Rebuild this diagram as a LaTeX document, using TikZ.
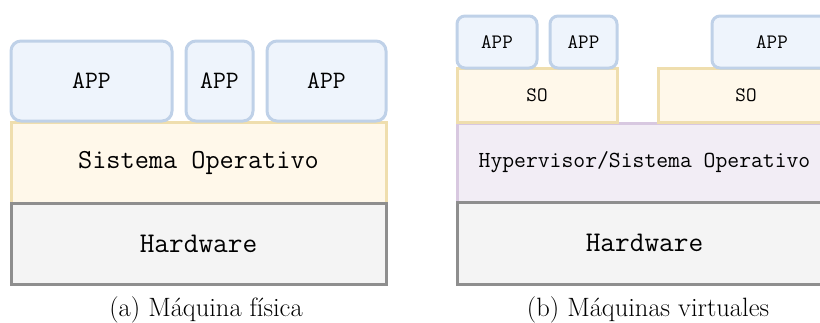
\documentclass[tikz,border=0pt]{standalone}
\usepackage{fontspec}
\definecolor{appfill}{HTML}{EEF4FC}
\definecolor{appline}{HTML}{BFD1E8}
\definecolor{osfill}{HTML}{FFF8EA}
\definecolor{osline}{HTML}{EFDEAE}
\definecolor{hwfill}{HTML}{F4F4F4}
\definecolor{hwline}{HTML}{8E8E8E}
\definecolor{hypfill}{HTML}{F2EDF5}
\definecolor{hypline}{HTML}{D8C8E0}
\newcommand\mono[1]{\ttfamily\fontsize{#1}{#1}\selectfont}
\tikzset{
  layer/.style={rectangle, inner sep=0pt, line width=3pt},
  appbox/.style={layer, rounded corners=10pt, fill=appfill, draw=appline},
  osbox/.style={layer, fill=osfill, draw=osline},
  hwbox/.style={layer, fill=hwfill, draw=hwline},
  hypbox/.style={layer, fill=hypfill, draw=hypline},
  caption/.style={inner sep=0pt, anchor=base, font=\fontsize{26.5}{30}\selectfont}
}
\begin{document}
\begin{tikzpicture}[x=1pt, y=-1pt]
\useasboundingbox (0,0) rectangle (820,322);
\clip (0,0) rectangle (820,322);

% (a) physical machine
\node[osbox, minimum width=375pt, minimum height=81pt, font=\mono{27.5}] (os) at (198.5,162.5) {Sistema Operativo};
\node[hwbox, minimum width=375pt, minimum height=81pt, font=\mono{28.5}] (hw) at (198.5,243.5) {Hardware};
\node[appbox, minimum width=161pt, minimum height=80pt, font=\mono{25}] (a1) at (91.5,81) {APP};
\node[appbox, minimum width=67pt, minimum height=80pt, font=\mono{25}] (a2) at (219.5,81) {APP};
\node[appbox, minimum width=119pt, minimum height=80pt, font=\mono{25}] (a3) at (326.5,81) {APP};
\node[caption] (capa) at (206,316) {(a) Máquina física};

% (b) virtual machines
\node[hypbox, minimum width=375pt, minimum height=79pt, font=\mono{23}] (hyp) at (644.5,162.5) {Hypervisor/Sistema Operativo};
\node[hwbox, minimum width=375pt, minimum height=82pt, font=\mono{28.5}] (hw2) at (644.5,243) {Hardware};
\node[osbox, minimum width=160pt, minimum height=54pt, font=\mono{20.5}] (so1) at (537,95.5) {SO};
\node[osbox, minimum width=176pt, minimum height=54pt, font=\mono{20.5}] (so2) at (746,95.5) {SO};
\node[appbox, rounded corners=8pt, minimum width=80pt, minimum height=52pt, font=\mono{20.5}] (b1) at (497,42) {APP};
\node[appbox, rounded corners=8pt, minimum width=67pt, minimum height=52pt, font=\mono{20.5}] (b2) at (583.5,42) {APP};
\node[appbox, rounded corners=8pt, minimum width=120pt, minimum height=52pt, font=\mono{20.5}] (b3) at (772,42) {APP};
\node[caption] (capb) at (648,316) {(b) Máquinas virtuales};
\end{tikzpicture}
\end{document}
